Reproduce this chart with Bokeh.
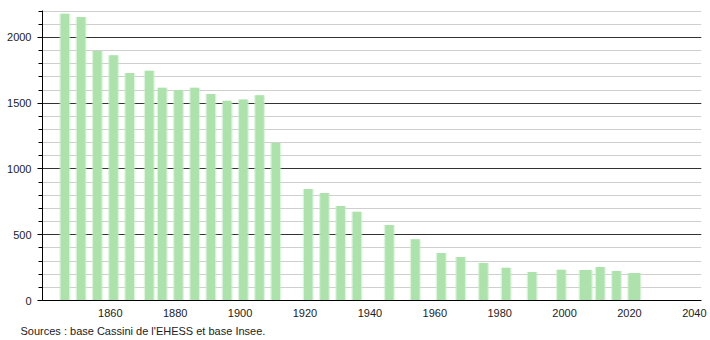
from bokeh.plotting import figure
from bokeh.models import FixedTicker, Grid, Range1d, Title
from bokeh.embed import file_html
from bokeh.resources import INLINE

years = [1846, 1851, 1856, 1861, 1866, 1872, 1876, 1881, 1886, 1891, 1896, 1901, 1906, 1911,
         1921, 1926, 1931, 1936, 1946, 1954, 1962, 1968, 1975, 1982, 1990, 1999, 2006, 2007,
         2011, 2016, 2021, 2022]
population = [2180, 2155, 1897, 1864, 1730, 1746, 1617, 1601, 1617, 1570, 1518, 1528, 1560, 1198,
              847, 817, 718, 675, 574, 465, 361, 331, 285, 249, 217, 234, 232, 232,
              255, 224, 209, 209]
x_ticks = [1860, 1880, 1900, 1920, 1940, 1960, 1980, 2000, 2020, 2040]
y_ticks = [0, 500, 1000, 1500, 2000]
y_minor = list(range(0, 2300, 100))
source_text = "Sources : base Cassini de l'EHESS et base Insee."

FONT = "Liberation Sans"

p = figure(width=710, height=340, output_backend="svg", toolbar_location=None,
           x_range=Range1d(1839.1, 2042.2), y_range=Range1d(0, 2205),
           min_border_left=42, min_border_right=9, min_border_top=10, min_border_bottom=4)
p.outline_line_color = None
p.background_fill_color = "white"
p.border_fill_color = "white"

p.xgrid.visible = False
p.ygrid.ticker = FixedTicker(ticks=y_minor)
p.ygrid.grid_line_color = "#cfcfcf"
p.ygrid.grid_line_width = 1
major_grid = Grid(dimension=1, ticker=FixedTicker(ticks=y_ticks[1:]),
                  grid_line_color="#333333", grid_line_width=1)
p.add_layout(major_grid)

# soft halo + core bar
p.vbar(x=years, top=population, width=3.4, fill_color="#c8edc8", fill_alpha=0.6, line_color=None)
p.vbar(x=years, top=population, width=2.6, fill_color="#ade2ad", line_color=None)

p.xaxis.ticker = FixedTicker(ticks=x_ticks)
p.xaxis.major_tick_line_color = None
p.xaxis.minor_tick_line_color = None
p.xaxis.axis_line_color = "black"
p.xaxis.major_label_text_font = FONT
p.xaxis.major_label_text_font_size = "11px"
p.xaxis.major_label_text_color = "#222222"
p.xaxis.major_label_standoff = 2

p.yaxis.ticker = FixedTicker(ticks=y_ticks, minor_ticks=y_minor)
p.yaxis.axis_line_color = "black"
p.yaxis.major_tick_line_color = "black"
p.yaxis.major_tick_in = 0
p.yaxis.major_tick_out = 5
p.yaxis.minor_tick_line_color = "black"
p.yaxis.minor_tick_in = 0
p.yaxis.minor_tick_out = 4
p.yaxis.major_label_text_font = FONT
p.yaxis.major_label_text_font_size = "11px"
p.yaxis.major_label_text_color = "#222222"
p.yaxis.major_label_standoff = 6

src = Title(text=source_text, align="left", text_font=FONT, text_font_size="11px",
            text_font_style="normal", text_color="#222222", offset=-22, standoff=7)
p.add_layout(src, "below")

open("out.html", "w").write(file_html(p, INLINE))
